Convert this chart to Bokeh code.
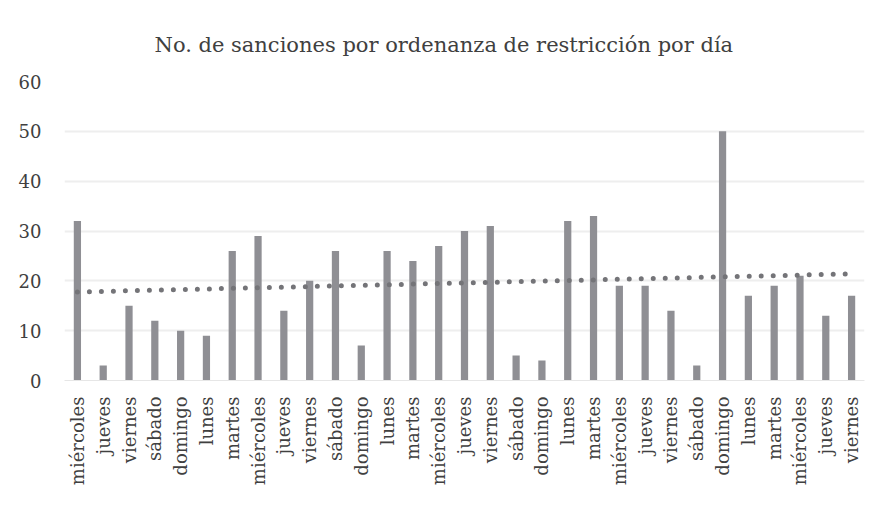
import numpy as np
from bokeh.plotting import figure
from bokeh.models import FixedTicker, Range1d, ColumnDataSource
from bokeh.embed import file_html
from bokeh.resources import INLINE

days = ["miércoles", "jueves", "viernes", "sábado", "domingo", "lunes", "martes",
        "miércoles", "jueves", "viernes", "sábado", "domingo", "lunes", "martes",
        "miércoles", "jueves", "viernes", "sábado", "domingo", "lunes", "martes",
        "miércoles", "jueves", "viernes", "sábado", "domingo", "lunes", "martes",
        "miércoles", "jueves", "viernes"]
sanciones = [32, 3, 15, 12, 10, 9, 26, 29, 14, 20, 26, 7, 26, 24, 27, 30, 31,
             5, 4, 32, 33, 19, 19, 14, 3, 50, 17, 19, 21, 13, 17]
y_ticks = [0, 10, 20, 30, 40, 50, 60]

xs = list(range(1, len(days) + 1))
slope, intercept = np.polyfit(xs, sanciones, 1)
trend_x = [xs[0], xs[-1]]
trend_y = [intercept + slope * xs[0], intercept + slope * xs[-1]]

SERIF = "DejaVu Serif"
TXT = "#404040"

p = figure(width=866, height=505, output_backend="svg", toolbar_location=None,
           x_range=Range1d(0.5, len(days) + 0.5), y_range=Range1d(0, 60),
           min_border_left=64, min_border_right=2, min_border_top=81,
           min_border_bottom=125)
p.title.text = "No. de sanciones por ordenanza de restricción por día"
p.title.align = "left"
p.title.offset = 90
p.title.text_font = SERIF
p.title.text_font_size = "21px"
p.title.text_font_style = "normal"
p.title.text_color = TXT
p.title.standoff = 50

src = ColumnDataSource(dict(x=xs, y=sanciones))
p.vbar(x="x", top="y", width=0.28, source=src, fill_color="#8f8f94", line_color=None)
p.line(trend_x, trend_y, line_color="#747478", line_width=5,
       line_dash="0 12", line_cap="round")

p.xaxis.ticker = FixedTicker(ticks=xs)
p.xaxis.major_label_overrides = {x: d for x, d in zip(xs, days)}
p.xaxis.major_label_orientation = np.pi / 2
p.xaxis.major_label_text_font = SERIF
p.xaxis.major_label_text_font_size = "18px"
p.xaxis.major_label_text_color = TXT
p.xaxis.major_tick_line_color = None
p.xaxis.minor_tick_line_color = None
p.xaxis.axis_line_color = "#e6e6e6"
p.xaxis.major_label_standoff = 10

p.yaxis.ticker = FixedTicker(ticks=y_ticks)
p.yaxis.major_label_text_font = SERIF
p.yaxis.major_label_text_font_size = "18px"
p.yaxis.major_label_text_color = TXT
p.yaxis.major_tick_line_color = None
p.yaxis.minor_tick_line_color = None
p.yaxis.axis_line_color = None
p.yaxis.major_label_standoff = 17

p.xgrid.grid_line_color = None
p.ygrid.grid_line_color = "#eeeeee"
p.ygrid.grid_line_width = 2
p.outline_line_color = None

open("out.html", "w").write(file_html(p, INLINE))
